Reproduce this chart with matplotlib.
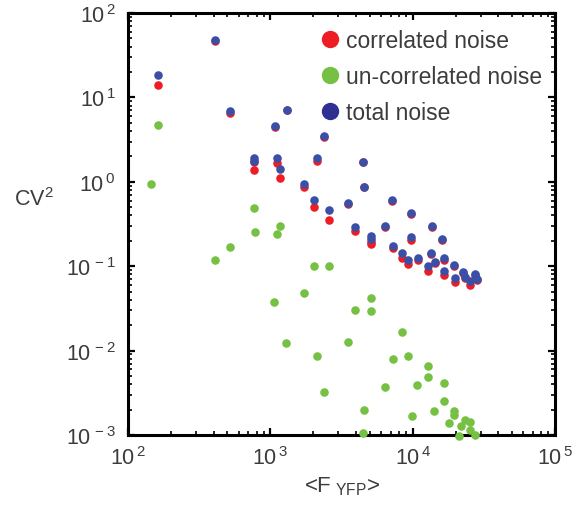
import matplotlib
matplotlib.use("Agg")
import matplotlib.pyplot as plt
from matplotlib.lines import Line2D

plt.rcParams['font.family'] = ['Liberation Sans', 'DejaVu Sans']
plt.rcParams['mathtext.fontset'] = 'custom'
plt.rcParams['mathtext.rm'] = 'Liberation Sans'
plt.rcParams['mathtext.it'] = 'Liberation Sans:italic'
plt.rcParams['mathtext.default'] = 'regular'

# ---- data ----
green_x = [145, 163, 408, 521, 768, 780, 1061, 1114, 1169, 1288, 1725, 2027, 2128, 2383,
           2583, 3515, 3935, 4478, 4550, 5097, 5097, 6392, 7277, 8414, 9274, 9888, 10730,
           12820, 12820, 14120, 16600, 16600, 18000, 19500, 19500, 21170, 21870, 23340,
           25300, 25300, 27430]
green_y = [0.94, 4.7, 0.118, 0.169, 0.49, 0.254, 0.0377, 0.241, 0.299, 0.0123, 0.048, 0.100,
           0.0086, 0.0032, 0.100, 0.0126, 0.030, 0.00106, 0.00198, 0.042, 0.0294, 0.0037,
           0.0080, 0.0166, 0.0086, 0.00168, 0.0039, 0.0066, 0.0049, 0.00192, 0.0041, 0.0025,
           0.00139, 0.00192, 0.00173, 0.00097, 0.00128, 0.00151, 0.00143, 0.00115, 0.0010]

total_x = [163, 408, 521, 768, 768, 1079, 1114, 1169, 1309, 1725, 2027, 2128, 2383, 2583,
           3515, 3935, 4478, 4550, 5097, 5097, 6392, 7161, 7277, 8414, 9274, 9730, 9730,
           10900, 12820, 13460, 13680, 14350, 16070, 16600, 16600, 19500, 19830, 22590,
           23340, 25300, 27430, 28330]
total_y = [18.4, 47.9, 6.9, 1.91, 1.76, 4.58, 1.91, 1.42, 7.09, 0.94, 0.608, 1.91, 3.49,
           0.464, 0.561, 0.291, 1.72, 0.867, 0.228, 0.210, 0.299, 0.608, 0.173, 0.143, 0.118,
           0.427, 0.222, 0.125, 0.1005, 0.143, 0.299, 0.112, 0.210, 0.125, 0.0877, 0.103,
           0.0725, 0.0853, 0.0745, 0.0668, 0.0809, 0.0706]
corr_y = [14.0, 47.0, 6.53, 1.72, 1.38, 4.5, 1.67, 1.11, 7.0, 0.867, 0.503, 1.76, 3.4,
          0.353, 0.55, 0.261, 1.7, 0.86, 0.183, 0.195, 0.295, 0.6, 0.164, 0.125, 0.106,
          0.42, 0.204, 0.12, 0.0877, 0.14, 0.295, 0.11, 0.205, 0.12, 0.0787, 0.10,
          0.065, 0.083, 0.072, 0.0599, 0.078, 0.068]

series_labels = ['correlated noise', 'un-correlated noise', 'total noise']
x_tick_exps = [2, 3, 4, 5]
y_tick_exps = [2, 1, 0, -1, -2, -3]

RED = '#ee1d24'
GREEN = '#76c043'
BLUE = '#3a4fa6'
BLUE_LEG = '#2e3192'
TXT = '#3c3c3c'

fig = plt.figure(figsize=(5.83, 5.06), dpi=100)
ax = fig.add_axes([128/583, 70/506, 427/583, 422/506])

ms = 38
ax.scatter(total_x, corr_y, s=ms, color=RED, linewidths=0, zorder=3, clip_on=False)
ax.scatter(green_x, green_y, s=ms, color=GREEN, linewidths=0, zorder=3, clip_on=False)
ax.scatter(total_x, total_y, s=ms, color=BLUE, linewidths=0, zorder=4, clip_on=False)

ax.set_xscale('log')
ax.set_yscale('log')
ax.set_xlim(1e2, 1e5)
ax.set_ylim(1e-3, 1e2)

ax.set_xticks([10.0**e for e in x_tick_exps])
ax.set_xticklabels([r'10$^{\,%d}$' % e for e in x_tick_exps])
ax.set_yticks([10.0**e for e in y_tick_exps])
ax.set_yticklabels([r'10$^{\,%d}$' % e for e in y_tick_exps])

for s in ax.spines.values():
    s.set_linewidth(2.2)
ax.tick_params(which='both', direction='in', top=True, right=True, colors='black',
               labelcolor=TXT, labelsize=15.5)
ax.tick_params(which='major', length=5, width=1.6, pad=8)
ax.tick_params(which='minor', length=3, width=1.2)
ax.tick_params(axis='y', which='major', pad=9)

ax.set_xlabel(r'<F$_{\ YFP}$>', fontsize=16, color=TXT)
ax.xaxis.set_label_coords(0.5, -0.093)
ax.set_ylabel(r'CV$^{2}$', fontsize=15.5, color=TXT, rotation=0, ha='center', va='center')
ax.yaxis.set_label_coords(-0.22, 0.56)

handles = [Line2D([], [], ls='', marker='o', ms=12.5, color=c, mec='none')
           for c in (RED, GREEN, BLUE_LEG)]
leg = ax.legend(handles, series_labels, loc='upper left', bbox_to_anchor=(0.431, 0.983),
                frameon=False, fontsize=16.5, handletextpad=0.3, labelspacing=0.57,
                borderaxespad=0, handlelength=0.8)
for t in leg.get_texts():
    t.set_color(TXT)

fig.savefig('out.png', dpi=100)
